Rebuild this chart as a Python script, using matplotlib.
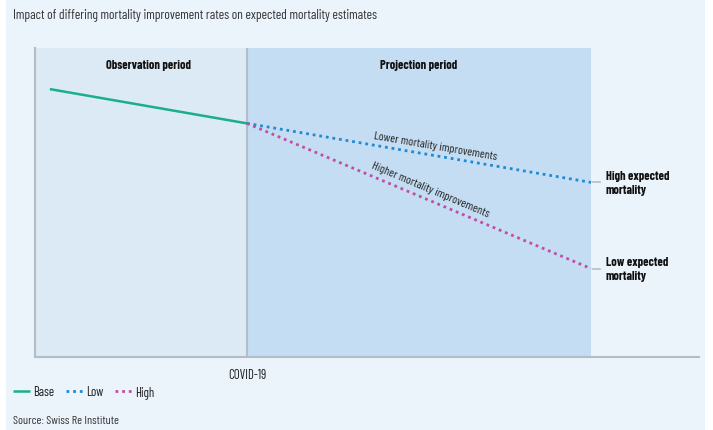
import numpy as np
import matplotlib.pyplot as plt
from matplotlib.patches import Rectangle

plt.rcParams['font.family'] = ['Barlow Condensed', 'DejaVu Sans']

# abstract time axis: observation starts at 0, COVID-19 at 1
covid_x = 1.0
proj_end = 2.623
x_max = 3.132

base_x = [0.07, 1.0]
base_y = [86.7, 75.6]
low_x = [1.0, 2.623]
low_y = [75.6, 56.5]
high_x = [1.0, 2.623]
high_y = [75.6, 28.6]

period_labels = ['Observation period', 'Projection period']
end_labels = ['High expected\nmortality', 'Low expected\nmortality']
series_labels = ['Base', 'Low', 'High']

bg = '#ebf3fb'
obs_col = '#dceaf6'
proj_col = '#c4ddf2'
grey = '#b4bcc4'
c_base = '#1aae8c'
c_low = '#1d8bd6'
c_high = '#c24da3'

fig = plt.figure(figsize=(7.13, 4.31), dpi=100)
fig.patches.append(Rectangle((6 / 713, 0), 699 / 713, 1, transform=fig.transFigure,
                             facecolor=bg, edgecolor='none', zorder=-10))

ax = fig.add_axes([35 / 713, 1 - 358 / 431, 664 / 713, 309 / 431])
ax.set_facecolor('none')
ax.set_xlim(0, x_max)
ax.set_ylim(0, 100)

ax.axvspan(0, covid_x, color=obs_col, zorder=0, lw=0)
ax.axvspan(covid_x, proj_end, color=proj_col, zorder=0, lw=0)
ax.axvline(covid_x, color=grey, lw=1.5, zorder=1)

ax.plot(base_x, base_y, color=c_base, lw=1.8, label=series_labels[0], zorder=3, solid_capstyle='butt')
ax.plot(low_x, low_y, color=c_low, lw=2, linestyle=(0, (1, 1.4)), label=series_labels[1], zorder=3)
ax.plot(high_x, high_y, color=c_high, lw=2, linestyle=(0, (1, 1.4)), label=series_labels[2], zorder=3)

# small grey markers and labels at the end of the projection
for yv, lab in zip([low_y[-1], high_y[-1]], end_labels):
    ax.plot([proj_end + 0.01, proj_end + 0.043], [yv, yv], color=grey, lw=1.2, zorder=2)
    ax.text(proj_end + 0.068, yv, lab, fontsize=8.9, fontweight='bold', va='center',
            ha='left', color='#111111', linespacing=1.3)

# period headings
ax.text(covid_x / 2 + 0.035, 94.5, period_labels[0], fontsize=8.9, fontweight='bold',
        ha='center', va='center', color='#111111')
ax.text((covid_x + proj_end) / 2, 94.5, period_labels[1], fontsize=8.9, fontweight='bold',
        ha='center', va='center', color='#111111')

# labels along the lines
ang_low = np.degrees(np.arctan2(low_y[1] - low_y[0], low_x[1] - low_x[0]))
ang_high = np.degrees(np.arctan2(high_y[1] - high_y[0], high_x[1] - high_x[0]))
ax.text(1.887, 68.3, 'Lower mortality improvements', fontsize=8.6, rotation=ang_low,
        transform_rotates_text=True, rotation_mode='anchor', ha='center', va='center',
        color='#222222')
ax.text(1.863, 54.4, 'Higher mortality improvements', fontsize=8.6, rotation=ang_high,
        transform_rotates_text=True, rotation_mode='anchor', ha='center', va='center',
        color='#222222')

ax.set_xticks([covid_x])
ax.set_xticklabels(['COVID-19'], fontsize=9.2, color='#1a1a1a')
ax.tick_params(axis='x', length=0, pad=8)
ax.set_yticks([])
for s in ['top', 'right']:
    ax.spines[s].set_visible(False)
for s in ['left', 'bottom']:
    ax.spines[s].set_color(grey)
    ax.spines[s].set_linewidth(1.5)
    ax.spines[s].set_zorder(2)

fig.text(13 / 713, 1 - 16 / 431, 'Impact of differing mortality improvement rates on expected mortality estimates',
         fontsize=9.6, color='#333333', va='center', ha='left')

fig.legend(loc='center left', bbox_to_anchor=(1 / 713, 1 - 393 / 431), ncol=3, frameon=False,
           fontsize=9.2, handlelength=1.35, handletextpad=0.25, columnspacing=0.9, labelcolor='#1a1a1a')

fig.text(13 / 713, 1 - 421 / 431, 'Source: Swiss Re Institute', fontsize=8.7, color='#333333',
         va='center', ha='left')

fig.savefig('out.png', dpi=100)
